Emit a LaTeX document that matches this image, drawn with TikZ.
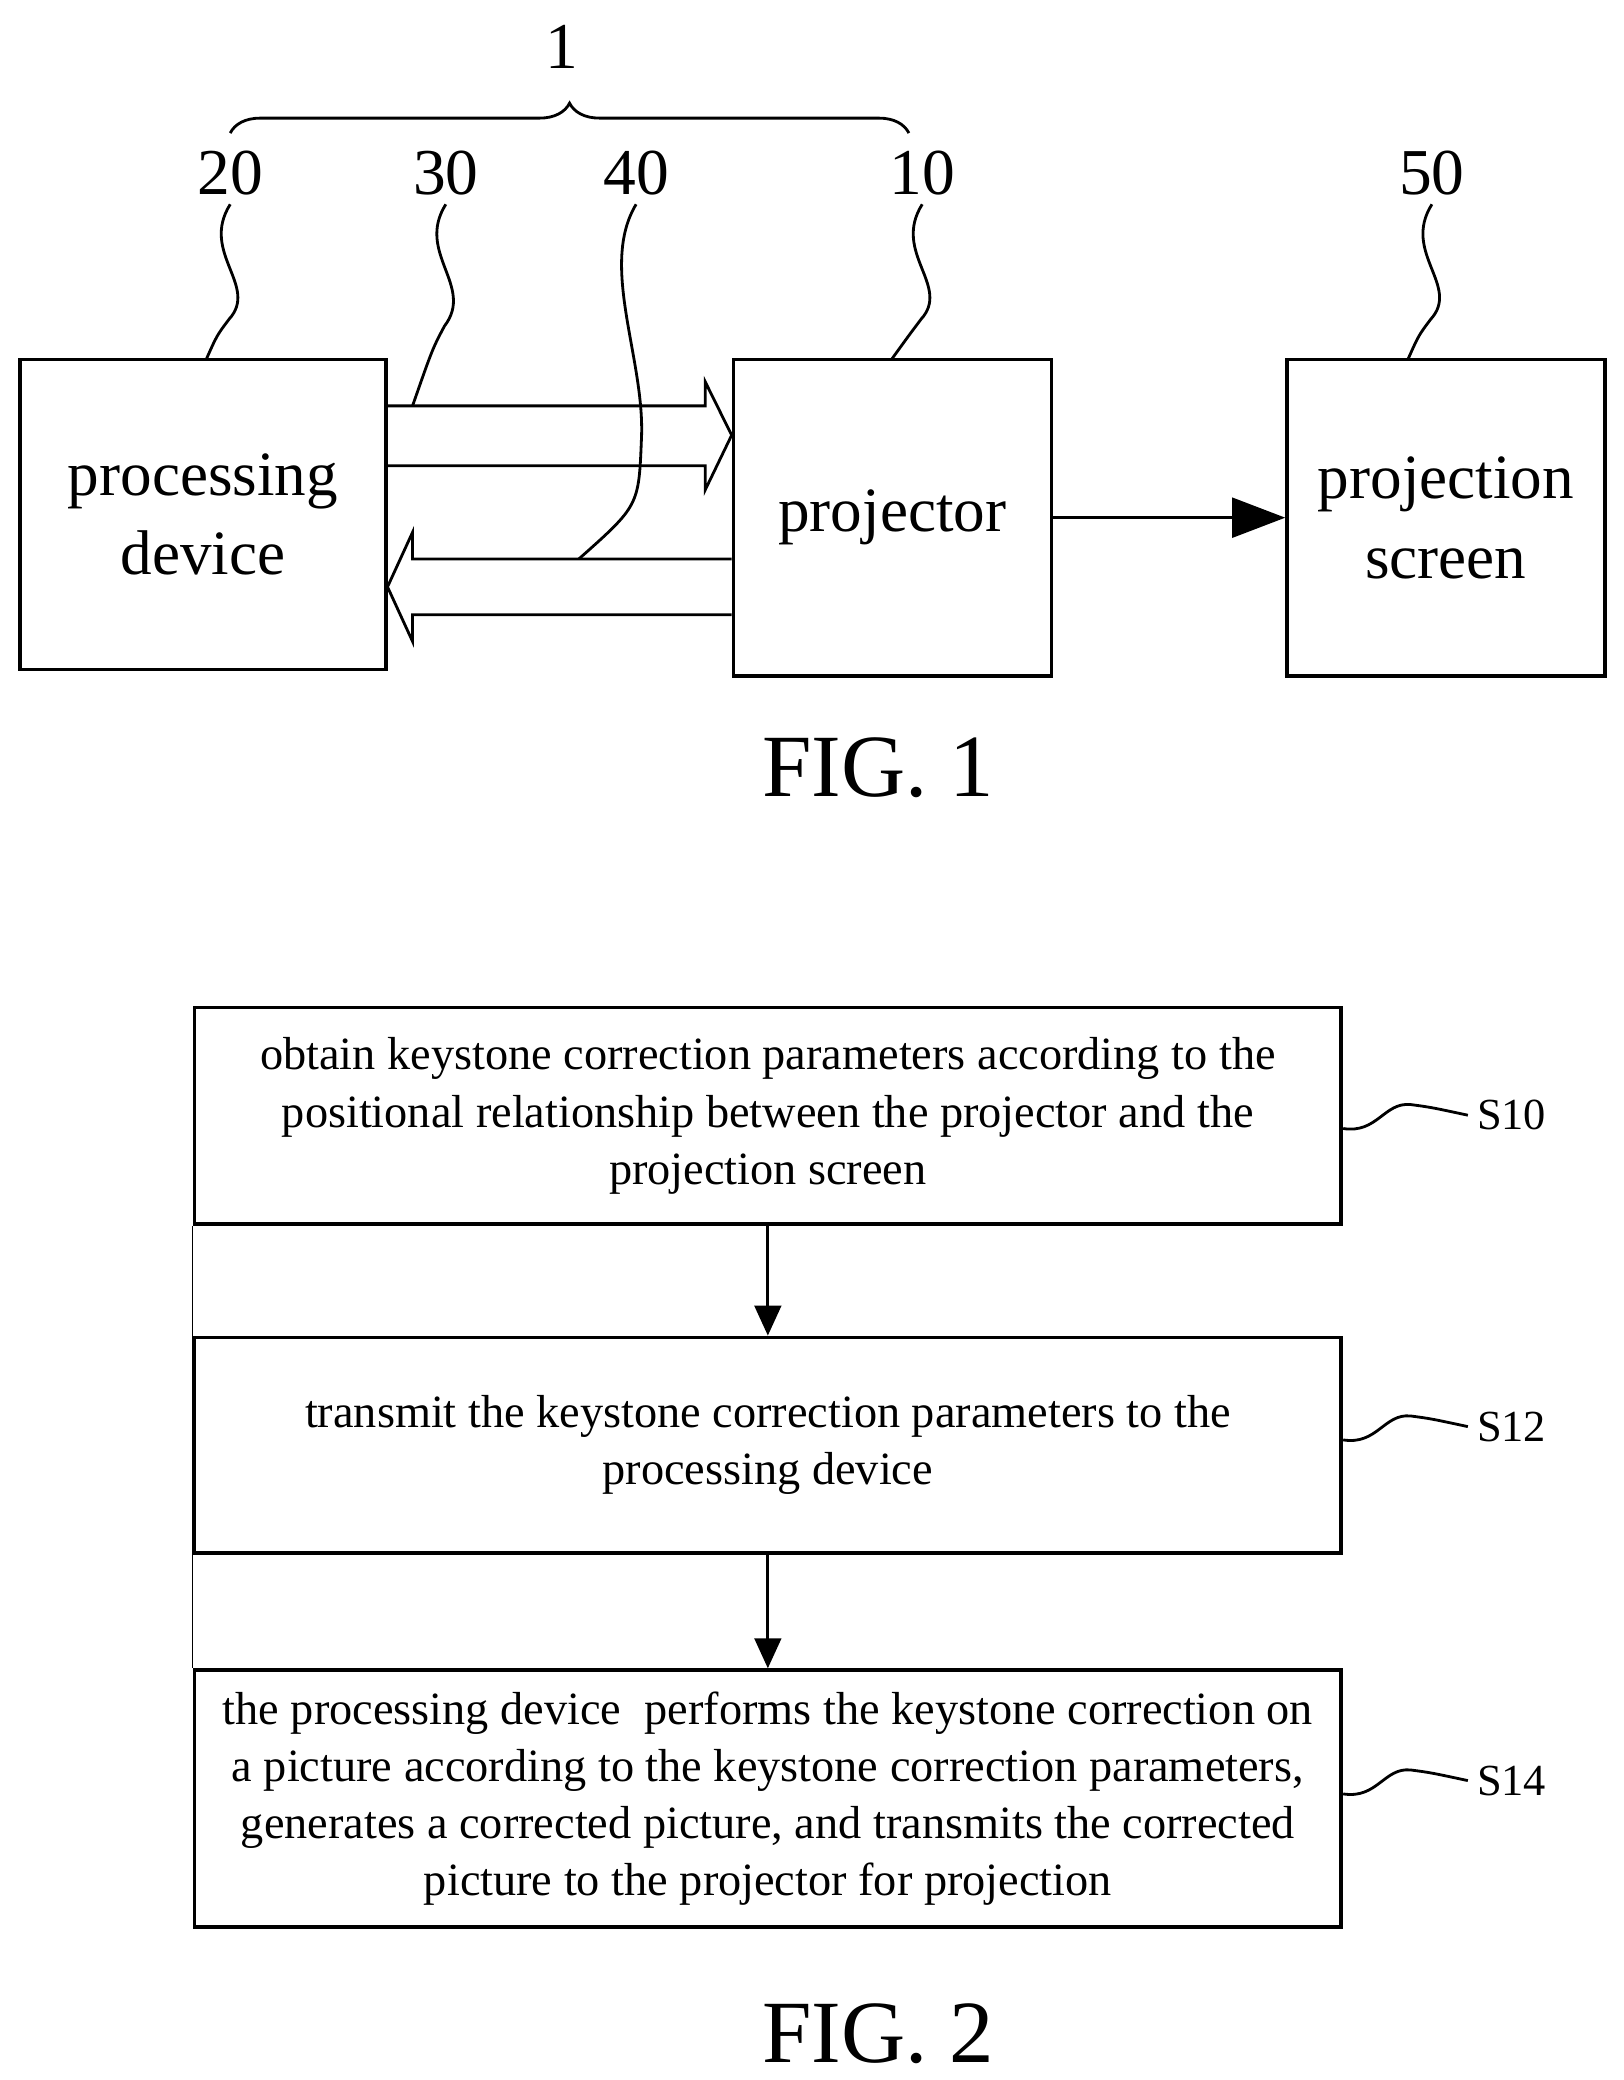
\documentclass[tikz,border=0pt]{standalone}
\usepackage{fontspec}
\setmainfont{Liberation Serif}
\usetikzlibrary{decorations.pathreplacing,arrows.meta}
\begin{document}
\begin{tikzpicture}[x=0.02cm,y=-0.02cm,line width=1.2pt,
	blk/.style={draw,line width=1.4pt,inner sep=0pt,align=center,font=\fontsize{27}{34}\selectfont},
	stepbox/.style={draw,line width=1.6pt,minimum width=17.24cm,inner sep=0pt,align=center,font=\fontsize{19.8}{24.5}\selectfont},
	num/.style={font=\fontsize{28}{28}\selectfont},
	snum/.style={font=\fontsize{19}{19}\selectfont}]
	\useasboundingbox (0,0) rectangle (1220,1563);
	% FIG. 1 blocks
	\node[blk,minimum width=5.5cm,minimum height=4.66cm] (proc) at (152.5,386.5) {processing\\device};
	\node[blk,minimum width=4.78cm,minimum height=4.76cm] (proj) at (670.5,389) {projector};
	\node[blk,minimum width=4.78cm,minimum height=4.76cm] (scr) at (1086.5,389) {projection\\screen};
	% labels
	\foreach \n/\x in {20/173, 30/335, 40/478, 10/693, 50/1076}{
		\node[num] (l\n) at (\x,130) {\n};
	}
	\node[num] (l1) at (422,35) {1};
	\draw[decorate,decoration={brace,amplitude=0.45cm}] (173,100) -- (683,100);
	% hollow arrows
	\draw (proc.east |- 0,305) -- (530,305) -- (530,287) -- (proj.west |- 0,327) -- (530,368) -- (530,350) -- (proc.east |- 0,350);
	\draw (proj.west |- 0,420) -- (310,420) -- (310,400) -- (proc.east |- 0,441) -- (310,482) -- (310,462) -- (proj.west |- 0,462);
	\draw[-{Triangle[length=0.8cm,width=0.6cm]}] (proj.east) -- (scr.west);
	% leaders
	\draw (l20.south) .. controls (150,190) and (195,215) .. (172,240) .. controls (163,252) .. (155,270);
	\draw (l30.south) .. controls (312,190) and (357,215) .. (334,245) .. controls (325,262) .. (310,305);
	\draw (l40.south) .. controls (450,200) and (485,270) .. (482,330) .. controls (480,380) .. (435,420);
	\draw (l10.south) .. controls (670,190) and (715,215) .. (692,240) .. controls (683,252) .. (670,270);
	\draw (l50.south) .. controls (1053,190) and (1098,215) .. (1075,240) .. controls (1066,252) .. (1058,270);
	\node[font=\fontsize{38}{38}\selectfont] (fig1) at (660,577) {FIG. 1};
	% FIG. 2 steps
	\node[stepbox,minimum height=3.26cm] (s10) at (577,838.5) {obtain keystone correction parameters according to the\\positional relationship between the projector and the\\projection screen};
	\node[stepbox,minimum height=3.24cm] (s12) at (577,1086) {transmit the keystone correction parameters to the\\processing device};
	\node[stepbox,minimum height=3.86cm] (s14) at (577,1351.5) {the processing device\ \ performs the keystone correction on\\a picture according to the keystone correction parameters,\\generates a corrected picture, and transmits the corrected\\picture to the projector for projection};
	\draw[line width=0.6pt] (s10.south west) -- (s14.north west);
	\draw[-{Triangle[length=0.45cm,width=0.4cm]}] (s10) -- (s12);
	\draw[-{Triangle[length=0.45cm,width=0.4cm]}] (s12) -- (s14);
	\foreach \s/\y in {10/838, 12/1072, 14/1338}{
		\node[snum,anchor=west] (t\s) at (1103,\y) {S\s};
		\draw (s\s.east |- 0,\y+10) .. controls (1035,\y+14) and (1040,\y-10) .. (1060,\y-8) .. controls (1075,\y-6) .. (t\s.west);
	}
	\node[font=\fontsize{38}{38}\selectfont] (fig2) at (660,1528) {FIG. 2};
\end{tikzpicture}
\end{document}
